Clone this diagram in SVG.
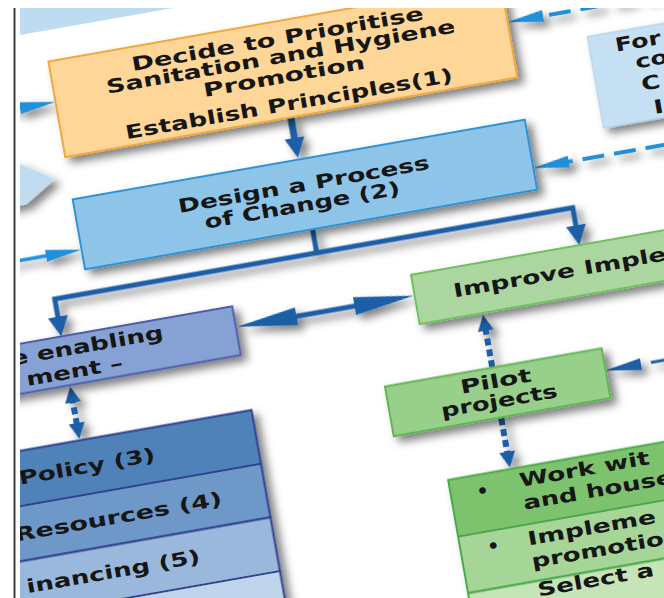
<svg xmlns="http://www.w3.org/2000/svg" width="664" height="598" viewBox="0 0 664 598">
<defs>
<style>
.t{font-family:"DejaVu Sans",Verdana,sans-serif;font-weight:bold;font-size:19px;fill:#161616}
.sh{filter:url(#sh)}
.c{fill:none}
.dk{stroke:#1b5ea7}
.br{stroke:#2390d8}
</style>
<clipPath id="frame"><rect x="20" y="8" width="644" height="590"/></clipPath>
<filter id="sh" x="-20%" y="-20%" width="150%" height="160%">
<feDropShadow dx="5" dy="6" stdDeviation="4" flood-color="#000" flood-opacity="0.5"/>
</filter>
<marker id="mBig" markerUnits="userSpaceOnUse" viewBox="0 0 20 20" markerWidth="20" markerHeight="20" refX="8" refY="10" orient="auto-start-reverse"><path d="M0,0L20,10L0,20z" fill="#1b5ea7"/></marker>
<marker id="mLong" markerUnits="userSpaceOnUse" viewBox="0 0 60 18" markerWidth="60" markerHeight="18" refX="20" refY="9" orient="auto-start-reverse"><path d="M0,0L60,9L0,18z" fill="#1b5ea7"/></marker>
<marker id="mDash" markerUnits="userSpaceOnUse" viewBox="0 0 16 16" markerWidth="16" markerHeight="16" refX="6" refY="8" orient="auto-start-reverse"><path d="M0,0L16,8L0,16z" fill="#1b5ea7"/></marker>
<marker id="mBright" markerUnits="userSpaceOnUse" viewBox="0 0 36 12" markerWidth="36" markerHeight="12" refX="12" refY="6" orient="auto-start-reverse"><path d="M0,0L36,6L0,12z" fill="#2390d8"/></marker>
<marker id="mThin" markerUnits="userSpaceOnUse" viewBox="0 0 36 12" markerWidth="36" markerHeight="12" refX="12" refY="6" orient="auto-start-reverse"><path d="M0,0L36,6L0,12z" fill="#1b5ea7"/></marker>
</defs>
<rect width="664" height="598" fill="#ffffff"/>
<line x1="14.5" y1="8" x2="14.5" y2="598" stroke="#3c3c3c" stroke-width="2"/>
<g clip-path="url(#frame)">
<g transform="rotate(-10)">

<g id="top-band"><rect x="-300" y="-300" width="560" height="338" fill="#bddcf2"/></g>

<g id="left-chevron" class="sh"><polygon points="-250,164 -10,164 23,186 -10,206 -250,206" fill="#bfdcf1"/></g>

<g id="connectors" class="sh">
<path class="c br" d="M-150,110L13,110" stroke-width="3.5" marker-end="url(#mBright)"/>
<path class="c br" d="M-150,260L13,260" stroke-width="3.5" marker-end="url(#mBright)"/>
<path class="c br" d="M720,110L520,110" stroke-width="4" stroke-dasharray="22 10" marker-end="url(#mBright)"/>
<path class="c br" d="M760,258L520,258" stroke-width="4" stroke-dasharray="22 10" marker-end="url(#mBright)"/>
<path class="c dk" d="M760,470L556,470" stroke-width="3" stroke-dasharray="22 10" marker-end="url(#mThin)"/>
<path class="c dk" d="M266,166L266,195" stroke-width="7" marker-end="url(#mBig)"/>
<path class="c dk" d="M268,280L268,306" stroke-width="5"/>
<path class="c dk" d="M2,330L2,304L528,304L528,330" stroke-width="5" marker-start="url(#mBig)" marker-end="url(#mBig)"/>
<path class="c dk" d="M217,363L316,363" stroke-width="5" marker-start="url(#mLong)" marker-end="url(#mLong)"/>
<path class="c dk" d="M2,403L2,436" stroke-width="6" stroke-dasharray="7 4" marker-start="url(#mDash)" marker-end="url(#mDash)"/>
<path class="c dk" d="M421,447L421,404" stroke-width="6" stroke-dasharray="7 4" marker-end="url(#mDash)"/>
<path class="c dk" d="M421,499L421,539" stroke-width="6" stroke-dasharray="7 4" marker-end="url(#mDash)"/>
</g>

<g id="decide" class="sh">
<rect x="37" y="69" width="459" height="97" fill="#fdd698" stroke="#f0a73a" stroke-width="2"/>
</g>
<g id="decide-text">
<text class="t" x="118.5" y="93" textLength="296" lengthAdjust="spacingAndGlyphs">Decide to Prioritise</text>
<text class="t" x="89.5" y="111" textLength="354" lengthAdjust="spacingAndGlyphs">Sanitation and Hygiene</text>
<text class="t" x="184.5" y="131" textLength="164" lengthAdjust="spacingAndGlyphs">Promotion</text>
<text class="t" x="100.5" y="159" textLength="332" lengthAdjust="spacingAndGlyphs">Establish Principles(1)</text>
</g>

<g id="design" class="sh">
<rect x="37" y="209" width="459" height="71" fill="#8ec4e8" stroke="#2a93d5" stroke-width="2"/>
</g>
<g id="design-text">
<text class="t" x="139.5" y="241" textLength="255" lengthAdjust="spacingAndGlyphs">Design a Process</text>
<text class="t" x="163" y="261" textLength="198" lengthAdjust="spacingAndGlyphs">of Change (2)</text>
</g>

<g id="form" class="sh">
<rect x="572" y="138" width="300" height="93" fill="#c5dff3" stroke="#aecde9" stroke-width="1"/>
</g>
<g id="form-text">
<text class="t" x="598" y="158" textLength="46" lengthAdjust="spacingAndGlyphs">For</text>
<text class="t" x="615" y="178" textLength="33" lengthAdjust="spacingAndGlyphs">co</text>
<text class="t" x="617" y="201" textLength="19" lengthAdjust="spacingAndGlyphs">C</text>
<text class="t" x="625" y="226" textLength="10" lengthAdjust="spacingAndGlyphs">I</text>
</g>

<g id="enabling" class="sh">
<rect x="-171" y="342" width="346.5" height="49.5" fill="#86a2d4" stroke="#4d5aa6" stroke-width="2"/>
</g>
<g id="enabling-text">
<text class="t" x="-52" y="362" textLength="155" lengthAdjust="spacingAndGlyphs">e enabling</text>
<text class="t" x="-40" y="385" textLength="98" lengthAdjust="spacingAndGlyphs">ment –</text>
</g>

<g id="improve" class="sh">
<rect x="357" y="342" width="420" height="50" fill="#acd69f" stroke="#6fbf60" stroke-width="2"/>
</g>
<g id="improve-text">
<text class="t" x="396" y="372" textLength="216" lengthAdjust="spacingAndGlyphs">Improve Imple</text>
</g>

<g id="pilot" class="sh">
<rect x="312" y="447.5" width="220" height="50.5" fill="#98cf8b" stroke="#5fb552" stroke-width="2"/>
</g>
<g id="pilot-text">
<text class="t" x="386" y="468" textLength="72" lengthAdjust="spacingAndGlyphs">Pilot</text>
<text class="t" x="363" y="488" textLength="118" lengthAdjust="spacingAndGlyphs">projects</text>
</g>

<g id="policy-list" class="sh">
<rect x="-171" y="447.5" width="347.5" height="54.5" fill="#4f82b8" stroke="#2e3f8f" stroke-width="2"/>
<rect x="-171" y="502" width="347.5" height="54.5" fill="#6d98c8" stroke="#2e3f8f" stroke-width="2"/>
<rect x="-171" y="556.5" width="347.5" height="54.5" fill="#9ab8dc" stroke="#2e3f8f" stroke-width="2"/>
<rect x="-171" y="611" width="347.5" height="54.5" fill="#c0d4ec" stroke="#2e3f8f" stroke-width="2"/>
</g>
<g id="policy-text">
<text class="t" x="-64.4" y="481" textLength="138" lengthAdjust="spacingAndGlyphs">Policy (3)</text>
<text class="t" x="-78.2" y="536" textLength="210" lengthAdjust="spacingAndGlyphs">Resources (4)</text>
<text class="t" x="-75.7" y="589" textLength="176" lengthAdjust="spacingAndGlyphs">inancing (5)</text>
</g>

<g id="work-list" class="sh">
<rect x="358" y="550.5" width="420" height="57.5" fill="#7dc36e" stroke="#4aa84a" stroke-width="2"/>
<rect x="358" y="608" width="420" height="57.5" fill="#a5d597" stroke="#4aa84a" stroke-width="2"/>
<rect x="358" y="665.5" width="420" height="57.5" fill="#c5e5b8" stroke="#4aa84a" stroke-width="2"/>
</g>
<g id="work-text">
<text class="t" x="384" y="574">•</text>
<text class="t" x="428" y="570" textLength="132" lengthAdjust="spacingAndGlyphs">Work wit</text>
<text class="t" x="428" y="593" textLength="152" lengthAdjust="spacingAndGlyphs">and house</text>
<text class="t" x="385" y="630">•</text>
<text class="t" x="426" y="629" textLength="130" lengthAdjust="spacingAndGlyphs">Impleme</text>
<text class="t" x="426" y="652" textLength="134" lengthAdjust="spacingAndGlyphs">promotio</text>
<text class="t" x="427" y="681" textLength="118" lengthAdjust="spacingAndGlyphs">Select a</text>
</g>

</g>
</g>
</svg>
